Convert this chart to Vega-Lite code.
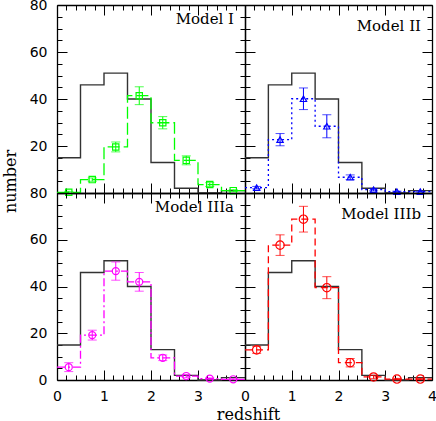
{
  "$schema": "https://vega.github.io/schema/vega-lite/v6.json",
  "autosize": {"type": "none"},
  "padding": {"left": 57, "top": 5, "right": 379, "bottom": 416},
  "background": "white",
  "datasets": {
    "obs": [
      {"lo": 0, "hi": 0.5, "n": 15},
      {"lo": 0.5, "hi": 1, "n": 46},
      {"lo": 1, "hi": 1.5, "n": 51},
      {"lo": 1.5, "hi": 2, "n": 40},
      {"lo": 2, "hi": 2.5, "n": 13},
      {"lo": 2.5, "hi": 3, "n": 2},
      {"lo": 3, "hi": 3.5, "n": 0},
      {"lo": 3.5, "hi": 4, "n": 1}
    ],
    "model": [
      {"panel": "I", "lo": 0, "hi": 0.5, "z": 0.25, "n": 0.3, "err": 0.4},
      {"panel": "I", "lo": 0.5, "hi": 1, "z": 0.75, "n": 5.7, "err": 0.7},
      {"panel": "I", "lo": 1, "hi": 1.5, "z": 1.25, "n": 19.6, "err": 2.1},
      {"panel": "I", "lo": 1.5, "hi": 2, "z": 1.75, "n": 41.4, "err": 3.8},
      {"panel": "I", "lo": 2, "hi": 2.5, "z": 2.25, "n": 29.9, "err": 2.6},
      {"panel": "I", "lo": 2.5, "hi": 3, "z": 2.75, "n": 13.9, "err": 1.9},
      {"panel": "I", "lo": 3, "hi": 3.5, "z": 3.25, "n": 3.6, "err": 0.8},
      {"panel": "I", "lo": 3.5, "hi": 4, "z": 3.75, "n": 1.0, "err": 0.4},
      {"panel": "II", "lo": 0, "hi": 0.5, "z": 0.25, "n": 2.3, "err": 0.5},
      {"panel": "II", "lo": 0.5, "hi": 1, "z": 0.75, "n": 22.7, "err": 2.6},
      {"panel": "II", "lo": 1, "hi": 1.5, "z": 1.25, "n": 40.1, "err": 4.6},
      {"panel": "II", "lo": 1.5, "hi": 2, "z": 1.75, "n": 28.4, "err": 4.9},
      {"panel": "II", "lo": 2, "hi": 2.5, "z": 2.25, "n": 6.7, "err": 1.0},
      {"panel": "II", "lo": 2.5, "hi": 3, "z": 2.75, "n": 1.4, "err": 0.5},
      {"panel": "II", "lo": 3, "hi": 3.5, "z": 3.25, "n": 0.6, "err": 0.2},
      {"panel": "II", "lo": 3.5, "hi": 4, "z": 3.75, "n": 0.6, "err": 0.2},
      {"panel": "IIIa", "lo": 0, "hi": 0.5, "z": 0.25, "n": 5.5, "err": 1.9},
      {"panel": "IIIa", "lo": 0.5, "hi": 1, "z": 0.75, "n": 19.2, "err": 2.1},
      {"panel": "IIIa", "lo": 1, "hi": 1.5, "z": 1.25, "n": 46.6, "err": 3.9},
      {"panel": "IIIa", "lo": 1.5, "hi": 2, "z": 1.75, "n": 42.0, "err": 4.0},
      {"panel": "IIIa", "lo": 2, "hi": 2.5, "z": 2.25, "n": 9.5, "err": 1.2},
      {"panel": "IIIa", "lo": 2.5, "hi": 3, "z": 2.75, "n": 1.7, "err": 0.7},
      {"panel": "IIIa", "lo": 3, "hi": 3.5, "z": 3.25, "n": 0.6, "err": 0.3},
      {"panel": "IIIa", "lo": 3.5, "hi": 4, "z": 3.75, "n": 0.3, "err": 0.2},
      {"panel": "IIIb", "lo": 0, "hi": 0.5, "z": 0.25, "n": 12.9, "err": 1.5},
      {"panel": "IIIb", "lo": 0.5, "hi": 1, "z": 0.75, "n": 57.7, "err": 4.4},
      {"panel": "IIIb", "lo": 1, "hi": 1.5, "z": 1.25, "n": 68.8, "err": 5.5},
      {"panel": "IIIb", "lo": 1.5, "hi": 2, "z": 1.75, "n": 39.5, "err": 4.7},
      {"panel": "IIIb", "lo": 2, "hi": 2.5, "z": 2.25, "n": 7.4, "err": 1.8},
      {"panel": "IIIb", "lo": 2.5, "hi": 3, "z": 2.75, "n": 1.3, "err": 0.7},
      {"panel": "IIIb", "lo": 3, "hi": 3.5, "z": 3.25, "n": 0.4, "err": 0.3},
      {"panel": "IIIb", "lo": 3.5, "hi": 4, "z": 3.75, "n": 0.4, "err": 0.3}
    ]
  },
  "columns": 2,
  "spacing": 0,
  "bounds": "flush",
  "concat": [
    {
      "width": 188, "height": 188,
      "title": {"text": "Model I"},
      "resolve": {"axis": {"x": "independent", "y": "independent"}},
      "layer": [
        {
          "data": {"name": "obs"},
          "transform": [{"fold": ["lo", "hi"], "as": ["edge", "zx"]}],
          "mark": {"type": "line", "color": "#333333", "strokeWidth": 1.4},
          "encoding": {
            "x": {"field": "zx", "type": "quantitative", "scale": {"domain": [0, 4], "nice": false},
                  "axis": {"orient": "bottom", "labels": false, "title": null,
                           "values": [0,0.2,0.4,0.6,0.8,1,1.2,1.4,1.6,1.8,2,2.2,2.4,2.6,2.8,3,3.2,3.4,3.6,3.8,4],
                           "tickSize": {"condition": {"test": "datum.value % 1 === 0", "value": -10}, "value": -5}}},
            "y": {"field": "n", "type": "quantitative", "scale": {"domain": [0, 80], "nice": false},
                  "axis": {"orient": "left", "title": "number", "titleX": -42, "titleY": 176, "titleAlign": "center", "titleBaseline": "alphabetic",
                           "labelPadding": 20,
                           "values": [0,5,10,15,20,25,30,35,40,45,50,55,60,65,70,75,80],
                           "labelExpr": "datum.value % 20 === 0 && datum.value > 0 ? datum.label : ''",
                           "tickSize": {"condition": {"test": "datum.value % 20 === 0", "value": -10}, "value": -5}}},
            "order": [{"field": "zx", "type": "quantitative"}, {"field": "edge", "type": "ordinal"}]
          }
        },
        {
          "data": {"name": "model"},
          "transform": [{"filter": "datum.panel === 'I'"}, {"fold": ["lo", "hi"], "as": ["edge", "zx"]}],
          "mark": {"type": "line", "color": "#00ff00", "strokeWidth": 1.3, "strokeDash": [12, 4]},
          "encoding": {
            "x": {"field": "zx", "type": "quantitative", "scale": {"domain": [0, 4], "nice": false},
                  "axis": {"orient": "top", "labels": false, "title": null,
                           "values": [0,0.2,0.4,0.6,0.8,1,1.2,1.4,1.6,1.8,2,2.2,2.4,2.6,2.8,3,3.2,3.4,3.6,3.8,4],
                           "tickSize": {"condition": {"test": "datum.value % 1 === 0", "value": -10}, "value": -5}}},
            "y": {"field": "n", "type": "quantitative", "scale": {"domain": [0, 80], "nice": false},
                  "axis": {"orient": "right", "labels": false, "title": null,
                           "values": [0,5,10,15,20,25,30,35,40,45,50,55,60,65,70,75,80],
                           "tickSize": {"condition": {"test": "datum.value % 20 === 0", "value": -10}, "value": -5}}},
            "order": [{"field": "zx", "type": "quantitative"}, {"field": "edge", "type": "ordinal"}]
          }
        },
        {
          "data": {"name": "model"},
          "transform": [{"filter": "datum.panel === 'I'"}],
          "mark": {"type": "errorbar", "color": "#00ff00", "ticks": {"size": 9}},
          "encoding": {
            "x": {"field": "z", "type": "quantitative", "axis": null},
            "y": {"field": "n", "type": "quantitative", "axis": null},
            "yError": {"field": "err"}
          }
        },
        {
          "data": {"name": "model"},
          "transform": [{"filter": "datum.panel === 'I'"}],
          "mark": {"type": "point", "shape": "square", "filled": false, "size": 40, "color": "#00ff00", "strokeWidth": 1.2, "opacity": 1},
          "encoding": {
            "x": {"field": "z", "type": "quantitative", "axis": null},
            "y": {"field": "n", "type": "quantitative", "axis": null}
          }
        }
      ]
    },
    {
      "width": 187, "height": 188,
      "title": {"text": "Model II"},
      "resolve": {"axis": {"x": "independent", "y": "independent"}},
      "layer": [
        {
          "data": {"name": "obs"},
          "transform": [{"fold": ["lo", "hi"], "as": ["edge", "zx"]}],
          "mark": {"type": "line", "color": "#333333", "strokeWidth": 1.4},
          "encoding": {
            "x": {"field": "zx", "type": "quantitative", "scale": {"domain": [0, 4], "nice": false},
                  "axis": {"orient": "bottom", "labels": false, "title": null,
                           "values": [0,0.2,0.4,0.6,0.8,1,1.2,1.4,1.6,1.8,2,2.2,2.4,2.6,2.8,3,3.2,3.4,3.6,3.8,4],
                           "tickSize": {"condition": {"test": "datum.value % 1 === 0", "value": -10}, "value": -5}}},
            "y": {"field": "n", "type": "quantitative", "scale": {"domain": [0, 80], "nice": false},
                  "axis": {"orient": "left", "labels": false, "title": null,
                           "values": [0,5,10,15,20,25,30,35,40,45,50,55,60,65,70,75,80],
                           "tickSize": {"condition": {"test": "datum.value % 20 === 0", "value": -10}, "value": -5}}},
            "order": [{"field": "zx", "type": "quantitative"}, {"field": "edge", "type": "ordinal"}]
          }
        },
        {
          "data": {"name": "model"},
          "transform": [{"filter": "datum.panel === 'II'"}, {"fold": ["lo", "hi"], "as": ["edge", "zx"]}],
          "mark": {"type": "line", "color": "#0000ff", "strokeWidth": 1.3, "strokeDash": [2, 3]},
          "encoding": {
            "x": {"field": "zx", "type": "quantitative", "scale": {"domain": [0, 4], "nice": false},
                  "axis": {"orient": "top", "labels": false, "title": null,
                           "values": [0,0.2,0.4,0.6,0.8,1,1.2,1.4,1.6,1.8,2,2.2,2.4,2.6,2.8,3,3.2,3.4,3.6,3.8,4],
                           "tickSize": {"condition": {"test": "datum.value % 1 === 0", "value": -10}, "value": -5}}},
            "y": {"field": "n", "type": "quantitative", "scale": {"domain": [0, 80], "nice": false},
                  "axis": {"orient": "right", "labels": false, "title": null,
                           "values": [0,5,10,15,20,25,30,35,40,45,50,55,60,65,70,75,80],
                           "tickSize": {"condition": {"test": "datum.value % 20 === 0", "value": -10}, "value": -5}}},
            "order": [{"field": "zx", "type": "quantitative"}, {"field": "edge", "type": "ordinal"}]
          }
        },
        {
          "data": {"name": "model"},
          "transform": [{"filter": "datum.panel === 'II'"}],
          "mark": {"type": "errorbar", "color": "#0000ff", "ticks": {"size": 9}},
          "encoding": {
            "x": {"field": "z", "type": "quantitative", "axis": null},
            "y": {"field": "n", "type": "quantitative", "axis": null},
            "yError": {"field": "err"}
          }
        },
        {
          "data": {"name": "model"},
          "transform": [{"filter": "datum.panel === 'II'"}],
          "mark": {"type": "point", "shape": "triangle-up", "filled": false, "size": 40, "color": "#0000ff", "strokeWidth": 1.2, "opacity": 1},
          "encoding": {
            "x": {"field": "z", "type": "quantitative", "axis": null},
            "y": {"field": "n", "type": "quantitative", "axis": null}
          }
        }
      ]
    },
    {
      "width": 188, "height": 187,
      "title": {"text": "Model IIIa"},
      "resolve": {"axis": {"x": "independent", "y": "independent"}},
      "layer": [
        {
          "data": {"name": "obs"},
          "transform": [{"fold": ["lo", "hi"], "as": ["edge", "zx"]}],
          "mark": {"type": "line", "color": "#333333", "strokeWidth": 1.4},
          "encoding": {
            "x": {"field": "zx", "type": "quantitative", "scale": {"domain": [0, 4], "nice": false},
                  "axis": {"orient": "bottom", "title": "redshift", "titleX": 191, "titleY": 39, "titleAlign": "center", "titleBaseline": "alphabetic",
                           "labelPadding": 19,
                           "values": [0,0.2,0.4,0.6,0.8,1,1.2,1.4,1.6,1.8,2,2.2,2.4,2.6,2.8,3,3.2,3.4,3.6,3.8,4],
                           "labelExpr": "datum.value % 1 === 0 && datum.value < 4 ? format(datum.value, 'd') : ''",
                           "tickSize": {"condition": {"test": "datum.value % 1 === 0", "value": -10}, "value": -5}}},
            "y": {"field": "n", "type": "quantitative", "scale": {"domain": [0, 80], "nice": false},
                  "axis": {"orient": "left", "title": null, "labelPadding": 20,
                           "values": [0,5,10,15,20,25,30,35,40,45,50,55,60,65,70,75,80],
                           "labelExpr": "datum.value % 20 === 0 ? datum.label : ''",
                           "tickSize": {"condition": {"test": "datum.value % 20 === 0", "value": -10}, "value": -5}}},
            "order": [{"field": "zx", "type": "quantitative"}, {"field": "edge", "type": "ordinal"}]
          }
        },
        {
          "data": {"name": "model"},
          "transform": [{"filter": "datum.panel === 'IIIa'"}, {"fold": ["lo", "hi"], "as": ["edge", "zx"]}],
          "mark": {"type": "line", "color": "#ff00ff", "strokeWidth": 1.3, "strokeDash": [8, 3, 2, 3]},
          "encoding": {
            "x": {"field": "zx", "type": "quantitative", "scale": {"domain": [0, 4], "nice": false},
                  "axis": {"orient": "top", "labels": false, "title": null,
                           "values": [0,0.2,0.4,0.6,0.8,1,1.2,1.4,1.6,1.8,2,2.2,2.4,2.6,2.8,3,3.2,3.4,3.6,3.8,4],
                           "tickSize": {"condition": {"test": "datum.value % 1 === 0", "value": -10}, "value": -5}}},
            "y": {"field": "n", "type": "quantitative", "scale": {"domain": [0, 80], "nice": false},
                  "axis": {"orient": "right", "labels": false, "title": null,
                           "values": [0,5,10,15,20,25,30,35,40,45,50,55,60,65,70,75,80],
                           "tickSize": {"condition": {"test": "datum.value % 20 === 0", "value": -10}, "value": -5}}},
            "order": [{"field": "zx", "type": "quantitative"}, {"field": "edge", "type": "ordinal"}]
          }
        },
        {
          "data": {"name": "model"},
          "transform": [{"filter": "datum.panel === 'IIIa'"}],
          "mark": {"type": "errorbar", "color": "#ff00ff", "ticks": {"size": 9}},
          "encoding": {
            "x": {"field": "z", "type": "quantitative", "axis": null},
            "y": {"field": "n", "type": "quantitative", "axis": null},
            "yError": {"field": "err"}
          }
        },
        {
          "data": {"name": "model"},
          "transform": [{"filter": "datum.panel === 'IIIa'"}],
          "mark": {"type": "point", "shape": "circle", "filled": false, "size": 50, "color": "#ff00ff", "strokeWidth": 1.2, "opacity": 1},
          "encoding": {
            "x": {"field": "z", "type": "quantitative", "axis": null},
            "y": {"field": "n", "type": "quantitative", "axis": null}
          }
        }
      ]
    },
    {
      "width": 187, "height": 187,
      "title": {"text": "Model IIIb"},
      "resolve": {"axis": {"x": "independent", "y": "independent"}},
      "layer": [
        {
          "data": {"name": "obs"},
          "transform": [{"fold": ["lo", "hi"], "as": ["edge", "zx"]}],
          "mark": {"type": "line", "color": "#333333", "strokeWidth": 1.4},
          "encoding": {
            "x": {"field": "zx", "type": "quantitative", "scale": {"domain": [0, 4], "nice": false},
                  "axis": {"orient": "bottom", "title": null, "labelPadding": 19,
                           "values": [0,0.2,0.4,0.6,0.8,1,1.2,1.4,1.6,1.8,2,2.2,2.4,2.6,2.8,3,3.2,3.4,3.6,3.8,4],
                           "labelExpr": "datum.value % 1 === 0 ? format(datum.value, 'd') : ''",
                           "tickSize": {"condition": {"test": "datum.value % 1 === 0", "value": -10}, "value": -5}}},
            "y": {"field": "n", "type": "quantitative", "scale": {"domain": [0, 80], "nice": false},
                  "axis": {"orient": "left", "labels": false, "title": null,
                           "values": [0,5,10,15,20,25,30,35,40,45,50,55,60,65,70,75,80],
                           "tickSize": {"condition": {"test": "datum.value % 20 === 0", "value": -10}, "value": -5}}},
            "order": [{"field": "zx", "type": "quantitative"}, {"field": "edge", "type": "ordinal"}]
          }
        },
        {
          "data": {"name": "model"},
          "transform": [{"filter": "datum.panel === 'IIIb'"}, {"fold": ["lo", "hi"], "as": ["edge", "zx"]}],
          "mark": {"type": "line", "color": "#ff0000", "strokeWidth": 1.3, "strokeDash": [7, 4]},
          "encoding": {
            "x": {"field": "zx", "type": "quantitative", "scale": {"domain": [0, 4], "nice": false},
                  "axis": {"orient": "top", "labels": false, "title": null,
                           "values": [0,0.2,0.4,0.6,0.8,1,1.2,1.4,1.6,1.8,2,2.2,2.4,2.6,2.8,3,3.2,3.4,3.6,3.8,4],
                           "tickSize": {"condition": {"test": "datum.value % 1 === 0", "value": -10}, "value": -5}}},
            "y": {"field": "n", "type": "quantitative", "scale": {"domain": [0, 80], "nice": false},
                  "axis": {"orient": "right", "labels": false, "title": null,
                           "values": [0,5,10,15,20,25,30,35,40,45,50,55,60,65,70,75,80],
                           "tickSize": {"condition": {"test": "datum.value % 20 === 0", "value": -10}, "value": -5}}},
            "order": [{"field": "zx", "type": "quantitative"}, {"field": "edge", "type": "ordinal"}]
          }
        },
        {
          "data": {"name": "model"},
          "transform": [{"filter": "datum.panel === 'IIIb'"}],
          "mark": {"type": "errorbar", "color": "#ff0000", "ticks": {"size": 9}},
          "encoding": {
            "x": {"field": "z", "type": "quantitative", "axis": null},
            "y": {"field": "n", "type": "quantitative", "axis": null},
            "yError": {"field": "err"}
          }
        },
        {
          "data": {"name": "model"},
          "transform": [{"filter": "datum.panel === 'IIIb'"}],
          "mark": {"type": "point", "shape": "circle", "filled": false, "size": 70, "color": "#ff0000", "strokeWidth": 1.2, "opacity": 1},
          "encoding": {
            "x": {"field": "z", "type": "quantitative", "axis": null},
            "y": {"field": "n", "type": "quantitative", "axis": null}
          }
        }
      ]
    }
  ],
  "config": {
    "view": {"stroke": null},
    "axis": {
      "grid": false, "domainColor": "black", "domainWidth": 1.3,
      "tickColor": "black", "tickWidth": 1,
      "labelFont": "DejaVu Sans", "labelFontSize": 14, "labelColor": "black",
      "labelOverlap": false, "labelFlush": false, "labelBound": false,
      "titleFont": "DejaVu Serif", "titleFontSize": 16, "titleFontWeight": "normal", "titleColor": "black"
    },
    "title": {
      "orient": "top", "anchor": "end", "frame": "group", "offset": -29, "dx": -11,
      "font": "DejaVu Serif", "fontSize": 15, "fontWeight": "normal", "color": "black"
    }
  }
}
